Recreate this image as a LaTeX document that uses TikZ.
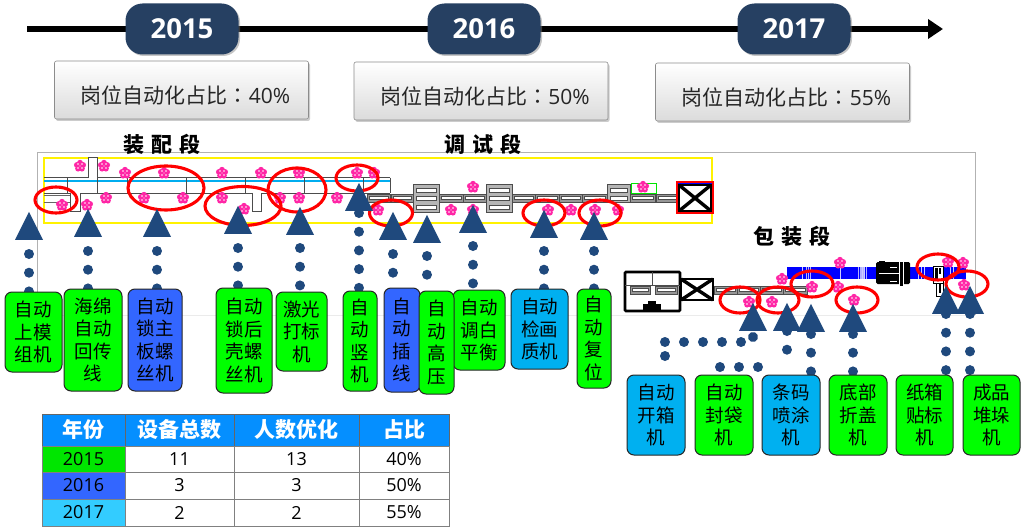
\documentclass[tikz,border=0pt]{standalone}
\usepackage{fontspec}
\setmainfont{Noto Sans CJK SC}
\newfontfamily\lat{Open Sans}
\newfontfamily\tcf{Noto Sans CJK TC}
\usetikzlibrary{shapes.geometric,arrows.meta,shadows,backgrounds}
\definecolor{navy}{RGB}{31,73,125}
\definecolor{pill}{RGB}{38,64,98}
\definecolor{lgreen}{RGB}{0,255,0}
\definecolor{lblue}{RGB}{51,102,255}
\definecolor{lcyan}{RGB}{0,176,240}
\definecolor{thead}{RGB}{5,143,255}
\definecolor{tgreen}{RGB}{0,230,0}
\definecolor{tcyan}{RGB}{51,204,255}
\definecolor{pinkf}{RGB}{255,0,150}
\definecolor{trackg}{RGB}{150,150,150}
\tikzset{
  x=1pt,y=-1pt,
  lab/.style={draw=black!85,line width=1pt,rounded corners=7pt,inner sep=0pt,align=center,text=black,font=\fontsize{18.5}{22.5}\selectfont},
  tri/.style={isosceles triangle,isosceles triangle apex angle=60,isosceles triangle stretches,shape border rotate=90,fill=navy,draw=none,inner sep=0pt,minimum width=28pt,minimum height=28pt,anchor=south},
  dotline/.style={navy,line width=10pt,line cap=round,dash pattern=on 0.01pt off 18.7pt},
  pillbox/.style={fill=pill,rounded corners=17pt,minimum width=113pt,minimum height=51pt,inner sep=0pt,text=white,font=\fontsize{27.5}{30}\selectfont\lat\bfseries,drop shadow={shadow xshift=1.5pt,shadow yshift=-1.5pt,opacity=.45}},
  ratebox/.style={draw=black!45,line width=.6pt,rounded corners=2pt,top color=white,bottom color=black!14,minimum width=254pt,minimum height=58pt,inner sep=0pt,text=black!85,font=\fontsize{21}{24}\selectfont,drop shadow={shadow xshift=1.5pt,shadow yshift=-2pt,opacity=.4}},
  cell/.style={draw=black!50,line width=1pt,inner sep=0pt,text=black,font=\fontsize{18}{20}\selectfont\lat},
  headcell/.style={draw=black!60,line width=1pt,inner sep=0pt,fill=thead,text=white,font=\fontsize{21}{23}\selectfont\bfseries},
  sectitle/.style={inner sep=0pt,text=black,font=\fontsize{21}{24}\selectfont\bfseries},
  redring/.style={draw=red,line width=3.1pt},
  flower/.pic={
    \foreach \a in {90,162,234,306,18}{\fill[pinkf!85] (\a:3.3pt) circle (2.9pt);}
    \foreach \a in {45,135,225,315}{\fill[white] (\a:2.8pt) circle (.9pt);}
  }
}
\newcommand{\lbl}[7]{\node[lab,fill=#6,minimum width={#4-#2},minimum height={#5-#3}] (#1) at ({(#2+#4)/2},{(#3+#5)/2}) {#7};}
\newcommand{\tcell}[7]{\node[#6,minimum width={#4-#2},minimum height={#5-#3}] (#1) at ({(#2+#4)/2},{(#3+#5)/2}) {#7};}
\newcommand{\trk}[4]{\draw[black!70,line width=.8pt,fill=trackg] (#1,#3) rectangle (#2,#4); \draw[black!70,line width=.5pt,fill=white] (#1+2,{(#3+#4)/2-1.5}) rectangle (#2-2,{(#3+#4)/2+1.5});}
\newcommand{\rtext}[1]{\raisebox{-14pt}[0pt][0pt]{\hspace{8pt}岗位自动化占比{\tcf ：}{\lat #1\%}}}
\newcommand{\tgap}{\hspace{7pt}}
\begin{document}
\begin{tikzpicture}
\path[use as bounding box] (0,0) rectangle (1021,532);

% --- year pills and boxes
\node[pillbox] (y15) at (182,29) {2015};
\node[pillbox] (y16) at (484,29) {2016};
\node[pillbox] (y17) at (794,29) {2017};
\coordinate (tlstart) at (27,29);
\coordinate (tlend) at (943,29);
\node[ratebox] (r15) at (181.5,90) {\rtext{40}};
\node[ratebox] (r16) at (481,91) {\rtext{50}};
\node[ratebox] (r17) at (782.5,92) {\rtext{55}};

\node[sectitle] (s1) at (162,144) {装\tgap 配\tgap 段};
\node[sectitle] (s2) at (483,144) {调\tgap 试\tgap 段};
\node[sectitle] (s3) at (792,236) {包\tgap 装\tgap 段};

% --- triangles
\node[tri] (t1) at (29,240) {};
\node[tri] (t2) at (88,237) {};
\node[tri] (t3) at (157,237) {};
\node[tri] (t4) at (238,234) {};
\node[tri] (t5) at (300,235) {};
\node[tri] (t6) at (359,211) {};
\node[tri] (t7) at (393,240) {};
\node[tri] (t8) at (427,243) {};
\node[tri] (t9) at (473,233) {};
\node[tri] (t10) at (544,238) {};
\node[tri] (t11) at (594,240) {};
\node[tri] (t12) at (753,331) {};
\node[tri] (t13) at (787,331) {};
\node[tri] (t14) at (811,332) {};
\node[tri] (t15) at (853,332) {};
\node[tri] (t16) at (946,314) {};
\node[tri] (t17) at (970,314) {};

% --- labels
\lbl{l1}{5}{292}{62}{372}{lgreen}{自动\\上模\\组机}
\lbl{l2}{64}{289}{122}{391}{lgreen}{海绵\\自动\\回传\\线}
\lbl{l3}{128}{289}{182}{391}{lblue}{自动\\锁主\\板螺\\丝机}
\lbl{l4}{216}{288}{272}{393}{lgreen}{自动\\锁后\\壳螺\\丝机}
\lbl{l5}{276}{292}{327}{371}{lgreen}{激光\\打标\\机}
\lbl{l6}{343}{291}{377}{391}{lgreen}{自\\动\\竖\\机}
\lbl{l7}{384}{288}{420}{392}{lblue}{自\\动\\插\\线}
\lbl{l9}{453}{290}{505}{370}{lgreen}{自动\\调白\\平衡}
\lbl{l8}{419}{291}{454}{394}{lgreen}{自\\动\\高\\压}
\lbl{l10}{511}{289}{568}{369}{lcyan}{自动\\检画\\质机}
\lbl{l11}{577}{289}{611}{388}{lgreen}{自\\动\\复\\位}
\lbl{l12}{627}{375}{685}{455}{lcyan}{自动\\开箱\\机}
\lbl{l13}{695}{375}{753}{455}{lgreen}{自动\\封袋\\机}
\lbl{l14}{762}{375}{820}{455}{lcyan}{条码\\喷涂\\机}
\lbl{l15}{829}{375}{887}{455}{lgreen}{底部\\折盖\\机}
\lbl{l16}{896}{375}{953}{455}{lgreen}{纸箱\\贴标\\机}
\lbl{l17}{963}{375}{1020}{455}{lgreen}{成品\\堆垛\\机}

% --- table
\tcell{h1}{42}{414}{125}{446}{headcell}{年份}
\tcell{h2}{125}{414}{234}{446}{headcell}{设备总数}
\tcell{h3}{234}{414}{359}{446}{headcell}{人数优化}
\tcell{h4}{359}{414}{449}{446}{headcell}{占比}
\tcell{a1}{42}{446}{125}{472}{cell,fill=tgreen}{2015}
\tcell{a2}{125}{446}{234}{472}{cell,fill=white}{11}
\tcell{a3}{234}{446}{359}{472}{cell,fill=white}{13}
\tcell{a4}{359}{446}{449}{472}{cell,fill=white}{40\%}
\tcell{b1}{42}{472}{125}{499}{cell,fill=lblue}{2016}
\tcell{b2}{125}{472}{234}{499}{cell,fill=white}{3}
\tcell{b3}{234}{472}{359}{499}{cell,fill=white}{3}
\tcell{b4}{359}{472}{449}{499}{cell,fill=white}{50\%}
\tcell{c1}{42}{499}{125}{526}{cell,fill=tcyan}{2017}
\tcell{c2}{125}{499}{234}{526}{cell,fill=white}{2}
\tcell{c3}{234}{499}{359}{526}{cell,fill=white}{2}
\tcell{c4}{359}{499}{449}{526}{cell,fill=white}{55\%}

\begin{scope}[on background layer]
\fill[white] (0,0) rectangle (1021,532);
\draw[black,line width=6.5pt,-{Triangle[length=15pt,width=19pt]}] (tlstart) -- (tlend);

% frame
\draw[black!30,line width=.7pt] (37.5,315) -- (37.5,152) -- (975,152) -- (975,315);
\draw[black!8,line width=.7pt] (37.5,315) -- (975,315);
\draw[yellow,line width=1.6pt] (44,158) rectangle (712,223);

% assembly section
\draw[cyan,line width=2pt] (44,180.7) -- (390,180.7);
\draw[black!70,line width=1pt] (44,177.7) -- (390,177.7) (44,193.3) -- (390,193.3);
\foreach \vx in {67,97,127,186,245,304,363,390}{\draw[black!70,line width=1pt] (\vx,177.7) -- (\vx,193.3);}
\draw[black!70,line width=1pt,fill=white] (88,178) -- (88,158) -- (97,158) -- (97,178);
\draw[black!70,line width=1pt,fill=white] (70,193) -- (70,212) -- (80,212) -- (80,193);
\draw[black!70,line width=1pt,fill=white] (252,193) -- (252,212) -- (261,212) -- (261,193);
\draw[black!60,line width=1pt] (44,196) -- (70,196) (44,203) -- (70,203);

% test section tracks
\trk{367}{390}{194}{202}
\trk{391}{413}{194}{202}
\trk{439}{463}{194}{202}
\trk{463}{486}{194}{202}
\trk{512}{535}{194}{202}
\trk{535}{559}{194}{202}
\trk{559}{582}{194}{202}
\trk{582}{607}{194}{202}
\trk{630}{655}{194}{202}
\trk{656}{678}{194}{202}
\foreach \bx in {413,486}{
  \draw[black!70,line width=.9pt,fill=trackg!70] (\bx,184) rectangle (\bx+26,212);
  \foreach \by in {190,198,207}{\draw[black!70,line width=.6pt,fill=white] (\bx+3,\by-2) rectangle (\bx+23,\by+2);}
}
\draw[black!70,line width=.9pt,fill=trackg!70] (607,184) rectangle (630,202);
\foreach \by in {190,198}{\draw[black!70,line width=.6pt,fill=white] (610,\by-2) rectangle (627,\by+2);}
\draw[green!90!black,line width=1pt] (631,184) rectangle (656,194);

\draw[red,line width=1.2pt,fill=red] (677,182) rectangle (713,213);
\draw[black,line width=2.6pt,fill=white] (679,185) rectangle (711,211);
\draw[blue,line width=.8pt] (678,183.5) -- (712,183.5);
\draw[black,line width=3.4pt] (679,185) -- (711,211) (679,211) -- (711,185);

% packing section
\draw[black,line width=2.6pt,rounded corners=1pt,fill=white] (625,272) rectangle (680,311);
\draw[black!70,line width=1pt] (652,272) -- (652,285) (625,285) -- (680,285);
\foreach \sa/\sb in {630/650,655/677}{\draw[black!70,line width=.8pt,fill=trackg] (\sa,286) rectangle (\sb,294); \draw[black!70,line width=.4pt,fill=white] (\sa+2,288.5) rectangle (\sb-2,291.5);}
\fill[black] (643,304) rectangle (661,311);
\fill[black] (648,301) rectangle (656,304);
\draw[black,line width=2.8pt,fill=white] (681,279) rectangle (713,300);
\draw[black,line width=3.4pt] (681,279) -- (713,300) (681,300) -- (713,279);
\trk{714}{737}{286}{294}
\trk{737}{760}{286}{294}
\trk{760}{783}{286}{294}
\trk{783}{807}{286}{294}

\fill[blue] (787,267) rectangle (966,279);
\foreach \sx in {802,840,862,864,885,918,921,924,950,953}{\fill[blue!20] (\sx,267) rectangle (\sx+1.2,279);}
\foreach \sx in {806,808,810,863,866,860,858,861}{\fill[blue!30] (\sx,267) rectangle (\sx+1,279);}
\fill[black,rounded corners=1.5pt] (876,262) rectangle (910,284);
\fill[black] (879,260.5) rectangle (885,263);
\draw[white,line width=.7pt] (879,273) -- (899,273);
\draw[white,line width=.5pt] (890,267) -- (897,267) (890,281) -- (897,281);
\draw[white,line width=.7pt,fill=black] (899,261) rectangle (903,286);
\draw[black,line width=1pt,fill=white] (933,266) rectangle (943,283);
\fill[black] (935,268) rectangle (938,280);
\fill[black] (939,268) rectangle (941,274);
\draw[black,line width=1pt,fill=white] (936,283) rectangle (943,296);
\fill[black] (939,283) rectangle (941,293);

% flowers
\foreach \p in {(80,166),(104,166),(125,173),(164,173),(222,173),(261,173),(299,173),(357,173),(374,173),
 (62,205),(87,205),(106,198),(144,198),(183,198),(222,198),(244,209),(280,198),(299,198),(337,198),(378,210),
 (473,187),(643,187),(451,210),(473,210),(548,210),(571,210),(595,210),(618,210),
 (840,263),(782,279),(812,287),(838,287),(749,302),(772,302),(854,300),(948,262),(963,263),(964,285)}
 {\pic at \p {flower};}

% red rings
\foreach \cx/\cy/\rx/\ry in {56/200/21/13,166/188/38/22,243/206/38/19.5,297/190/29/22,357/178/21/13,391/213/21.5/13,544/213/21/13,600/213/21/13,812/284/21/13,740/300/20/13,778/300/21/13,857/300/21/13,938/267/21/13,967/284/21/13}
 {\draw[redring] (\cx,\cy) ellipse [x radius=\rx pt,y radius=\ry pt];}

% dotted connectors
\draw[dotline] ([yshift=-14pt]t1.south) -- (t1.south |- l1.north);
\draw[dotline] ([yshift=-14pt]t2.south) -- (t2.south |- l2.north);
\draw[dotline] ([yshift=-14pt]t3.south) -- (t3.south |- l3.north);
\draw[dotline] ([yshift=-14pt]t4.south) -- (t4.south |- l4.north);
\draw[dotline] ([yshift=-13pt]t5.south) -- (t5.south |- l5.north);
\draw[dotline] ([yshift=-2pt]t6.south) -- (t6.south |- l6.north);
\draw[dotline] ([yshift=-14pt]t7.south) -- (t7.south |- l7.north);
\draw[dotline] ([yshift=-13pt]t8.south) -- (t8.south |- l8.north);
\draw[dotline] ([yshift=-13pt]t9.south) -- (t9.south |- l9.north);
\draw[dotline] ([yshift=-13pt]t10.south) -- (t10.south |- l10.north);
\draw[dotline] ([yshift=-11pt]t11.south) -- (t11.south |- l11.north);
\coordinate (c12a) at (741,342);
\coordinate (c12b) at (664,342);
\coordinate (c12c) at (665,356);
\draw[dotline] ([yshift=-6pt]t12.south) -- (c12a);
\draw[dotline,dash pattern=on 0.01pt off 19pt] (c12a) -- (c12b);
\draw[dotline] (c12c) -- (c12c |- l12.north);
\coordinate (c13a) at (787,352);
\coordinate (c13b) at (758,367);
\coordinate (c13c) at (720,367);
\draw[dotline] (t13.south) -- (c13a);
\draw[dotline,dash pattern=on 0.01pt off 19pt] (c13b) -- (c13c) -- (l13.north -| c13c);
\draw[dotline] ([yshift=-2pt]t14.south) -- (t14.south |- l14.north);
\draw[dotline] ([yshift=-2pt]t15.south) -- (t15.south |- l15.north);
\draw[dotline] (t16.south) -- (t16.south |- l16.north);
\draw[dotline] (t17.south) -- (t17.south |- l17.north);
\end{scope}
\end{tikzpicture}
\end{document}
